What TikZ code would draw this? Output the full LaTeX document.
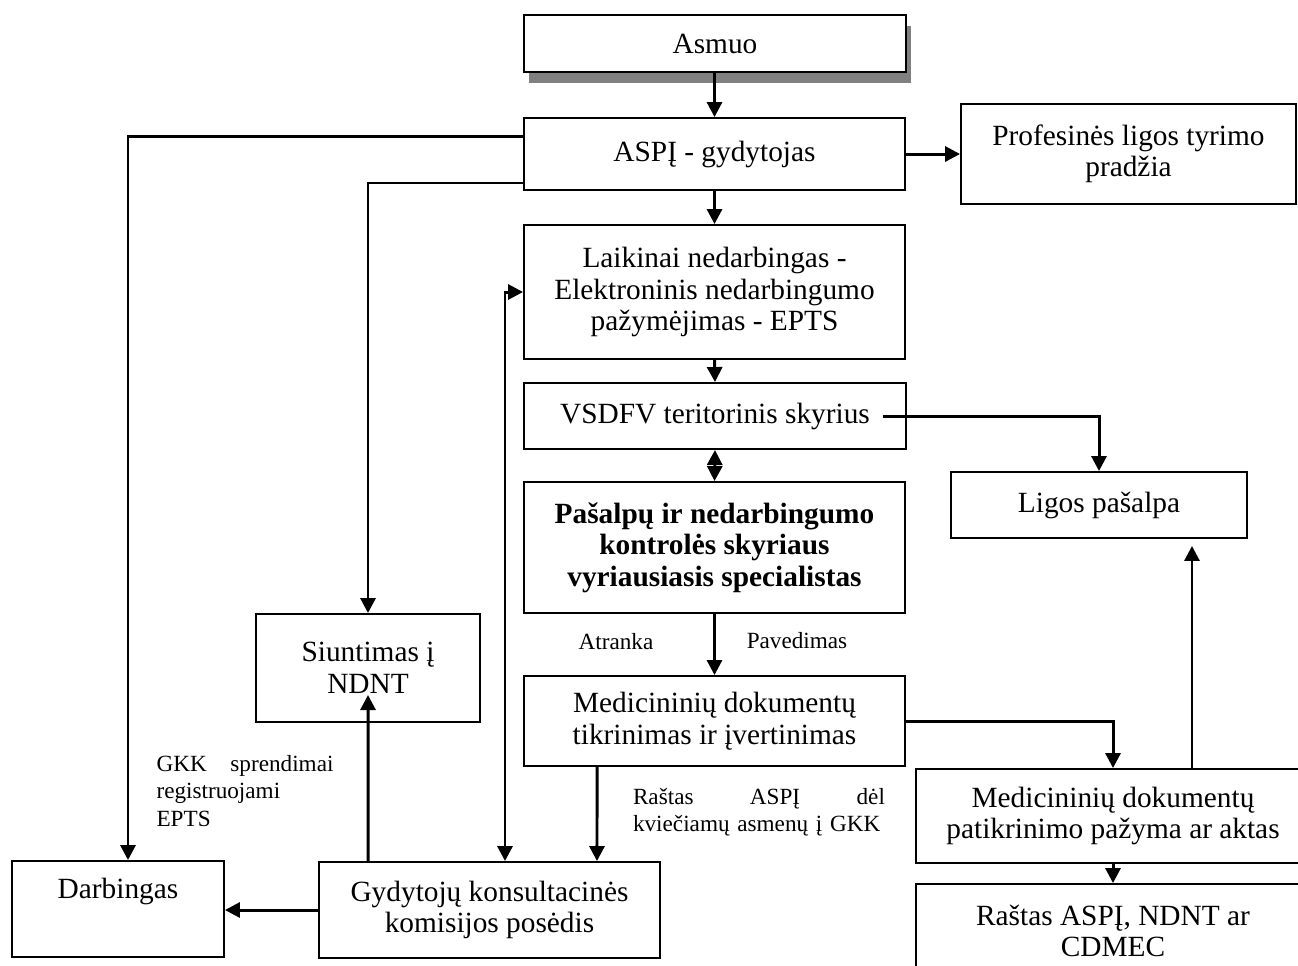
\documentclass[tikz,border=0pt]{standalone}
\usepackage{fontspec}
\setmainfont{Liberation Serif}
\usepackage{tikz}
\usetikzlibrary{arrows.meta,positioning,shadows}

\begin{document}
\begin{tikzpicture}[x=0.02cm, y=-0.02cm,
    box/.style={draw, line width=1.1pt, fill=white, align=center, inner sep=0pt,
        font=\fontsize{16.7}{17.9}\selectfont},
    lbl/.style={align=left, inner sep=0pt, font=\fontsize{13.2}{15.5}\selectfont},
    arr/.style={-{Triangle[length=0.3cm, width=0.3cm]}, line width=1.7pt},
    arrboth/.style={{Triangle[length=0.3cm, width=0.3cm]}-{Triangle[length=0.3cm, width=0.3cm]}, line width=1.7pt}]
    \useasboundingbox (0,0) rectangle (1298,965);

    % Main column
    \node[box, minimum width=7.64cm, minimum height=1.14cm,
        drop shadow={shadow xshift=0.1cm, shadow yshift=-0.22cm, fill=black!50, opacity=1}]
        (asmuo) at (715,43.5) {Asmuo};
    \node[box, minimum width=7.62cm, minimum height=1.44cm] (aspi) at (714.5,154) {ASPĮ - gydytojas};
    \node[box, minimum width=7.62cm, minimum height=2.68cm] (laik) at (714.5,292)
        {Laikinai nedarbingas -\\ Elektroninis nedarbingumo\\ pažymėjimas - EPTS};
    \node[box, minimum width=7.64cm, minimum height=1.32cm] (vsdfv) at (715,416) {VSDFV teritorinis skyrius};
    \node[box, minimum width=7.62cm, minimum height=2.62cm, font=\fontsize{16.7}{17.9}\selectfont\bfseries]
        (pasalpu) at (714.5,547.5)
        {Pašalpų ir nedarbingumo\\ kontrolės skyriaus\\ vyriausiasis specialistas};
    \node[box, minimum width=7.62cm, minimum height=1.8cm] (medtikr) at (714.5,721)
        {Medicininių dokumentų\\ tikrinimas ir įvertinimas};

    % Right side
    \node[box, minimum width=6.7cm, minimum height=2cm] (prof) at (1128.5,154)
        {Profesinės ligos tyrimo\\ pradžia};
    \node[box, minimum width=5.92cm, minimum height=1.32cm] (ligos) at (1099,505) {Ligos pašalpa};
    \node[box, minimum width=7.88cm, minimum height=1.88cm] (medpat) at (1113,816)
        {Medicininių dokumentų\\ patikrinimo pažyma ar aktas};
    \node[box, minimum width=7.88cm, minimum height=1.88cm] (rastas) at (1113,931)
        {Raštas ASPĮ, NDNT ar\\ CDMEC};

    % Left side
    \node[box, minimum width=4.48cm, minimum height=2.16cm] (siunt) at (368,668)
        {Siuntimas į\\ NDNT};
    \node[box, minimum width=6.82cm, minimum height=1.92cm] (gkk) at (489.5,910)
        {Gydytojų konsultacinės\\ komisijos posėdis};
    \node[box, minimum width=4.24cm, minimum height=1.92cm] (darb) at (118,909)
        {Darbingas\\ \strut};

    % Labels
    \node[lbl, fill=white, align=center, minimum width=2.66cm, minimum height=1.06cm, anchor=north]
        (atranka) at ([xshift=-1.82cm, yshift=-0.01cm]pasalpu.south) {Atranka\hspace{0.3cm}};
    \node[lbl] (paved) at ([xshift=1.65cm, yshift=-0.54cm]pasalpu.south) {Pavedimas};
    \node[lbl, text width=5.04cm] (rastlbl) at ([xshift=0.89cm, yshift=-0.9cm]medtikr.south)
        {Raštas\hfill ASPĮ\hfill dėl\\ \mbox{kviečiamų asmenų į GKK}};
    \node[lbl, text width=3.54cm] (gkklbl) at ([xshift=-2.46cm, yshift=-1.36cm]siunt.south)
        {GKK\hfill sprendimai\\ registruojami\\ EPTS};

    \coordinate (vsdfvout) at ([xshift=-0.48cm]vsdfv.east);
    \coordinate (ligosin) at ([xshift=1.86cm, yshift=-0.14cm]ligos.south);

    % Connectors
    \draw[arr] (aspi.north |- asmuo.south) -- (aspi.north);
    \draw[arr] (aspi.south) -- (laik.north);
    \draw[arr] (aspi.east) -- (prof.west);
    \draw[arr] (laik.south) -- (vsdfv.north);
    \draw[arrboth] (vsdfv.south) -- (pasalpu.north);
    \draw[arr] (pasalpu.south) -- (medtikr.north);
    \draw[arr] (vsdfvout) -| (ligos.north);
    \draw[arr] (medtikr.east) -| (medpat.north);
    \draw[arr] (medpat.north -| ligosin) -- (ligosin);
    \draw[arr] (medpat.south) -- (rastas.north);
    \draw[arr] ([xshift=-2.35cm]medtikr.south) -- ([xshift=2.15cm]gkk.north);
    \draw[arr] (gkk.west) -- (gkk.west -| darb.east);
    \draw[arr] ([xshift=-2.43cm]gkk.north) -- ([yshift=-0.54cm]siunt.center);
    \draw[arr] ([yshift=-0.58cm]aspi.west) -| (siunt.north);
    \draw[arr] ([yshift=0.36cm]aspi.west) -| ([xshift=0.2cm]darb.north);
    \draw[arrboth] ([xshift=0.31cm]gkk.north) |- (laik.west);
\end{tikzpicture}
\end{document}
